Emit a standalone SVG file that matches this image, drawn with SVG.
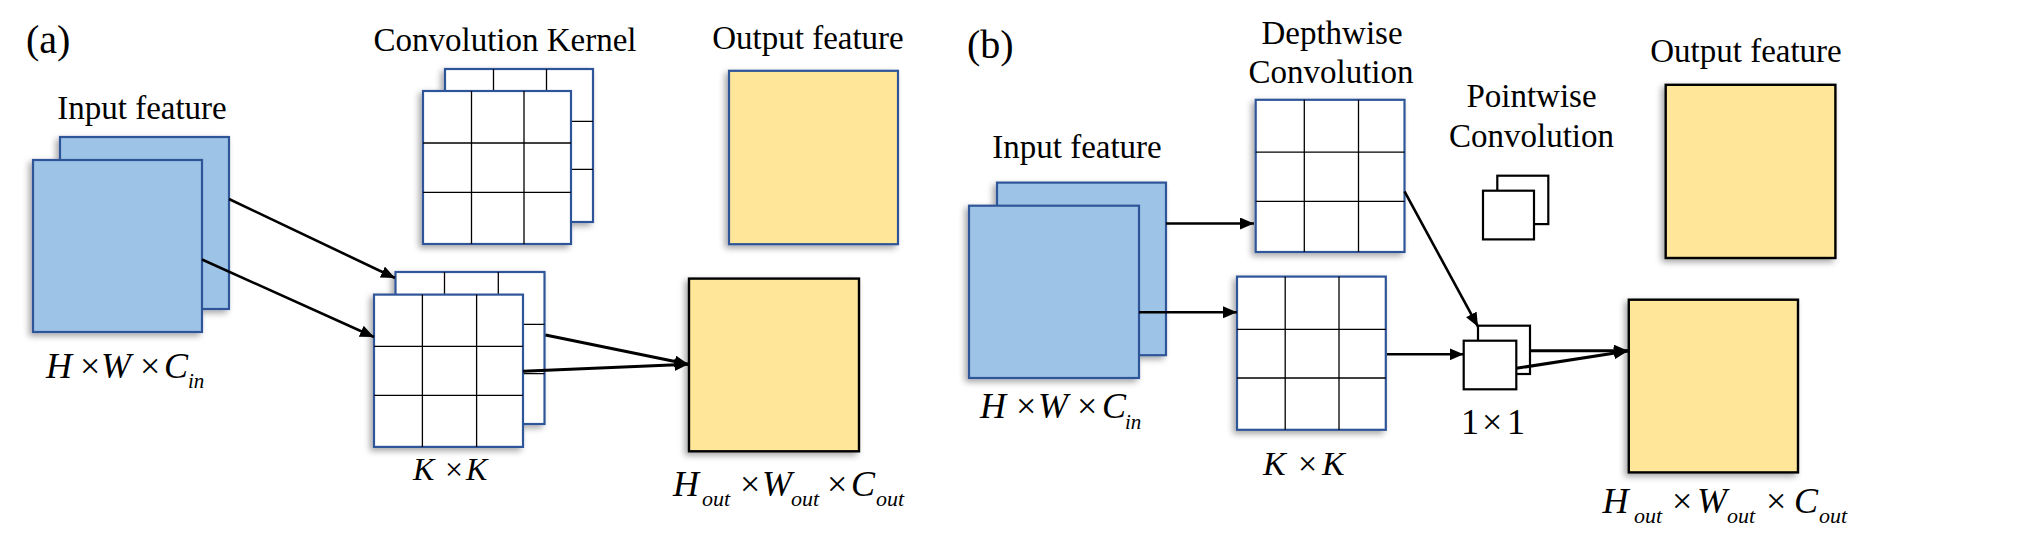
<svg xmlns="http://www.w3.org/2000/svg" width="2035" height="534" viewBox="0 0 2035 534">
<defs>
<filter id="sh" x="-20%" y="-20%" width="140%" height="140%">
<feDropShadow dx="-3" dy="3" stdDeviation="3" flood-color="#000" flood-opacity="0.35"/>
</filter>
<marker id="ah" markerUnits="userSpaceOnUse" markerWidth="15" markerHeight="12" refX="14" refY="6" orient="auto">
<path d="M0,0 L14,6 L0,12 z" fill="#000"/>
</marker>
</defs>
<style>
.t{font-family:"Liberation Serif","Times New Roman",serif;fill:#000}
.lab{font-size:33px}
.m{font-family:"Liberation Serif","Times New Roman",serif;font-style:italic;fill:#000}
.up{font-style:normal}
.blue{fill:#9DC3E6;stroke:#2F5597;stroke-width:2.2}
.yel{fill:#FFE699;stroke:#000;stroke-width:2.4}
.yelb{fill:#FFE699;stroke:#2F5597;stroke-width:2.2}
.ker{fill:#fff;stroke:#2F5597;stroke-width:2.2}
.pw{fill:#fff;stroke:#000;stroke-width:2.2}
.g{stroke:#000;stroke-width:1.3;fill:none}
.c{stroke:#000;stroke-width:2.6;fill:none;marker-end:url(#ah)}
.ct{stroke:#000;stroke-width:3;fill:none;marker-end:url(#ah)}
</style>

<g id="label-a"><text class="t" x="26" y="53" font-size="40">(a)</text></g>
<g id="label-b"><text class="t" x="967" y="58" font-size="40">(b)</text></g>

<g id="a-input">
<text class="t lab" x="142" y="118.5" text-anchor="middle">Input feature</text>
<g filter="url(#sh)">
<rect class="blue" x="60" y="137" width="169" height="172"/>
<rect class="blue" x="33" y="160" width="169" height="172"/>
</g>
<text class="m" y="378" font-size="36"><tspan x="46">H</tspan><tspan x="80" class="up">×</tspan><tspan x="101">W</tspan><tspan x="140" class="up">×</tspan><tspan x="164">C</tspan><tspan x="188" y="388" font-size="21">in</tspan></text>
</g>

<g id="a-kernel">
<text class="t lab" x="505" y="51" text-anchor="middle">Convolution Kernel</text>
<g filter="url(#sh)">
<rect class="ker" x="445" y="69" width="148" height="153"/>
<path class="g" d="M493.5,69V222M546.5,69V222M445,121.3H593M445,169.3H593"/>
<rect class="ker" x="423" y="91" width="148" height="153"/>
<path class="g" d="M471.5,91V244M524,91V244M423,143H571M423,192.4H571"/>
</g>
</g>

<g id="a-kernel-stack">
<g filter="url(#sh)">
<rect class="ker" x="395.5" y="272" width="149" height="152"/>
<path class="g" d="M444.5,272V424M498.3,272V424M395.5,324.3H544.5M395.5,373.6H544.5"/>
<rect class="ker" x="374" y="294.6" width="149" height="152.3"/>
<path class="g" d="M422.4,294.6V446.9M476.6,294.6V446.9M374,346.4H523M374,395.4H523"/>
</g>
<text class="m" y="480" font-size="32"><tspan x="413">K</tspan><tspan x="445" class="up">×</tspan><tspan x="466">K</tspan></text>
</g>

<g id="a-output-top">
<text class="t lab" x="808" y="49.4" text-anchor="middle">Output feature</text>
<rect class="yelb" x="729" y="70.8" width="169" height="173.4" filter="url(#sh)"/>
</g>

<g id="a-output">
<rect class="yel" x="689" y="278.6" width="170" height="172.7" filter="url(#sh)"/>
<text class="m" font-size="36"><tspan x="673" y="495.6">H</tspan><tspan x="702" y="505.8" font-size="22">out</tspan><tspan x="740" y="495.6" class="up">×</tspan><tspan x="762" y="495.6">W</tspan><tspan x="791" y="505.8" font-size="22">out</tspan><tspan x="827" y="495.6" class="up">×</tspan><tspan x="851" y="495.6">C</tspan><tspan x="876" y="505.8" font-size="22">out</tspan></text>
</g>

<g id="b-input">
<text class="t lab" x="1077" y="158.4" text-anchor="middle">Input feature</text>
<g filter="url(#sh)">
<rect class="blue" x="997" y="182.6" width="169" height="172.6"/>
<rect class="blue" x="969" y="205.7" width="170" height="172.3"/>
</g>
<text class="m" y="418.3" font-size="36"><tspan x="980">H</tspan><tspan x="1016" class="up">×</tspan><tspan x="1038">W</tspan><tspan x="1077" class="up">×</tspan><tspan x="1102">C</tspan><tspan x="1125" y="428.5" font-size="21">in</tspan></text>
</g>

<g id="b-depthwise">
<text class="t lab" text-anchor="middle"><tspan x="1332" y="43.6">Depthwise</tspan><tspan x="1331" y="82.8">Convolution</tspan></text>
<g filter="url(#sh)">
<rect class="ker" x="1255.7" y="99.8" width="148.8" height="152.2"/>
<path class="g" d="M1304.3,99.8V252M1358.5,99.8V252M1255.7,152.2H1404.5M1255.7,201.3H1404.5"/>
</g>
</g>

<g id="b-kernel">
<g filter="url(#sh)">
<rect class="ker" x="1237" y="276.6" width="148.8" height="153.2"/>
<path class="g" d="M1285.2,276.6V429.8M1339,276.6V429.8M1237,329.4H1385.8M1237,378H1385.8"/>
</g>
<text class="m" y="475" font-size="34"><tspan x="1263">K</tspan><tspan x="1298" class="up">×</tspan><tspan x="1322">K</tspan></text>
</g>

<g id="b-pointwise">
<text class="t lab" text-anchor="middle"><tspan x="1531.5" y="107.3">Pointwise</tspan><tspan x="1531.5" y="147.1">Convolution</tspan></text>
<rect class="pw" x="1497.3" y="175.7" width="51" height="48.4"/>
<rect class="pw" x="1483" y="190.7" width="51" height="48.7"/>
</g>

<g id="b-1x1">
<rect class="pw" x="1478" y="325.7" width="52" height="48.3"/>
<rect class="pw" x="1463.7" y="340.7" width="52.6" height="48.6"/>
<text class="t" y="434.3" font-size="36"><tspan x="1461">1</tspan><tspan x="1482">×</tspan><tspan x="1507">1</tspan></text>
</g>

<g id="b-output-top">
<text class="t lab" x="1746" y="62.3" text-anchor="middle">Output feature</text>
<rect class="yel" x="1665.7" y="84.8" width="169.7" height="173.2" filter="url(#sh)"/>
</g>

<g id="b-output">
<rect class="yel" x="1628.8" y="299.7" width="169.2" height="172.7" filter="url(#sh)"/>
<text class="m" font-size="36"><tspan x="1602.5" y="512.6">H</tspan><tspan x="1634" y="522.8" font-size="22">out</tspan><tspan x="1672" y="512.6" class="up">×</tspan><tspan x="1697" y="512.6">W</tspan><tspan x="1727" y="522.8" font-size="22">out</tspan><tspan x="1766" y="512.6" class="up">×</tspan><tspan x="1794" y="512.6">C</tspan><tspan x="1819" y="522.8" font-size="22">out</tspan></text>
</g>

<g id="connectors">
<line class="c" x1="229" y1="199" x2="395" y2="278"/>
<line class="c" x1="202" y1="259.5" x2="374" y2="337"/>
<line class="ct" x1="545.5" y1="335" x2="688.5" y2="364.3"/>
<line class="ct" x1="523" y1="371.3" x2="688.5" y2="364.3"/>
<line class="c" x1="1166" y1="223.5" x2="1254" y2="223.5"/>
<line class="c" x1="1139" y1="312.3" x2="1237" y2="312.3"/>
<line class="c" x1="1404.5" y1="191.4" x2="1478" y2="326.7"/>
<line class="c" x1="1387" y1="354.3" x2="1463.7" y2="354.3"/>
<line class="ct" x1="1530.7" y1="350.7" x2="1628" y2="350.7"/>
<line class="ct" x1="1516.3" y1="368.3" x2="1628" y2="351"/>
</g>
</svg>
